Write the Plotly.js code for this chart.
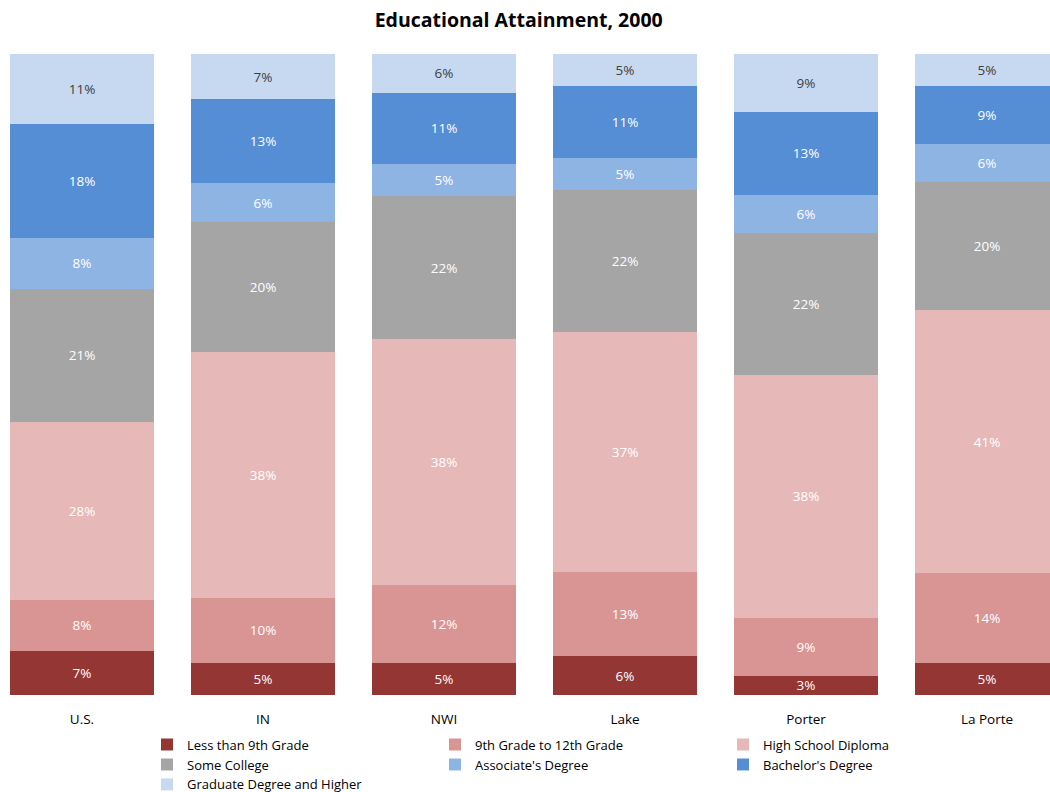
<!DOCTYPE html>
<html>
<head>
<meta charset="utf-8">
<script src="https://cdn.plot.ly/plotly-3.0.1.min.js"></script>
<style>html,body{margin:0;padding:0;background:#fff;}#chart{width:1050px;height:792px;}</style>
</head>
<body>
<div id="chart"></div>
<script>
const categories = ["U.S.", "IN", "NWI", "Lake", "Porter", "La Porte"];
const seriesNames = ["Less than 9th Grade", "9th Grade to 12th Grade", "High School Diploma",
  "Some College", "Associate's Degree", "Bachelor's Degree", "Graduate Degree and Higher"];
const lessThan9th   = [7, 5, 5, 6, 3, 5];
const grade9to12    = [8, 10, 12, 13, 9, 14];
const highSchool    = [28, 38, 38, 37, 38, 41];
const someCollege   = [21, 20, 22, 22, 22, 20];
const associates    = [8, 6, 5, 5, 6, 6];
const bachelors     = [18, 13, 11, 11, 13, 9];
const graduate      = [11, 7, 6, 5, 9, 5];

const seriesValues = [lessThan9th, grade9to12, highSchool, someCollege, associates, bachelors, graduate];
const colors = ["#943634", "#D99594", "#E6B9B8", "#A5A5A5", "#8EB4E3", "#558ED5", "#C6D9F1"];
const textColors = ["#ffffff", "#ffffff", "#ffffff", "#ffffff", "#ffffff", "#ffffff", "#404040"];
const FONT = "Open Sans, Liberation Sans, sans-serif";

const traces = seriesValues.map((vals, i) => ({
  type: "bar",
  name: seriesNames[i],
  x: categories,
  y: vals,
  text: vals.map(v => v + "%"),
  textposition: "inside",
  insidetextanchor: "middle",
  textangle: 0,
  constraintext: "none",
  textfont: {family: FONT, size: 13.5, color: textColors[i]},
  marker: {color: colors[i], line: {width: 0}},
  hoverinfo: "name+y"
}));

const layout = {
  width: 1050, height: 792,
  paper_bgcolor: "#ffffff", plot_bgcolor: "#ffffff",
  barmode: "stack", barnorm: "percent", bargap: 0.204,
  margin: {l: 0, r: 0, t: 54, b: 97, autoexpand: false},
  title: {text: "<b>Educational Attainment, 2000</b>", x: 0.494, xanchor: "center",
          y: 1 - 20/792, yanchor: "middle", yref: "container",
          font: {family: FONT, size: 19.5, color: "#000000"}},
  xaxis: {type: "category", range: [-0.453, 5.348], showgrid: false, showline: false,
          zeroline: false, ticks: "", ticklabelstandoff: 14, automargin: false,
          tickfont: {family: FONT, size: 13.5, color: "#000000"}},
  yaxis: {range: [0, 100], visible: false, showgrid: false, zeroline: false, automargin: false},
  showlegend: true,
  legend: {orientation: "h", x: 0.14, xanchor: "left", y: -0.054, yanchor: "top",
           traceorder: "normal", entrywidth: 243, entrywidthmode: "pixels",
           font: {family: FONT, size: 13, color: "#000000"}, tracegroupgap: 0}
};

Plotly.newPlot("chart", traces, layout, {displayModeBar: false, staticPlot: true});
</script>
</body>
</html>
